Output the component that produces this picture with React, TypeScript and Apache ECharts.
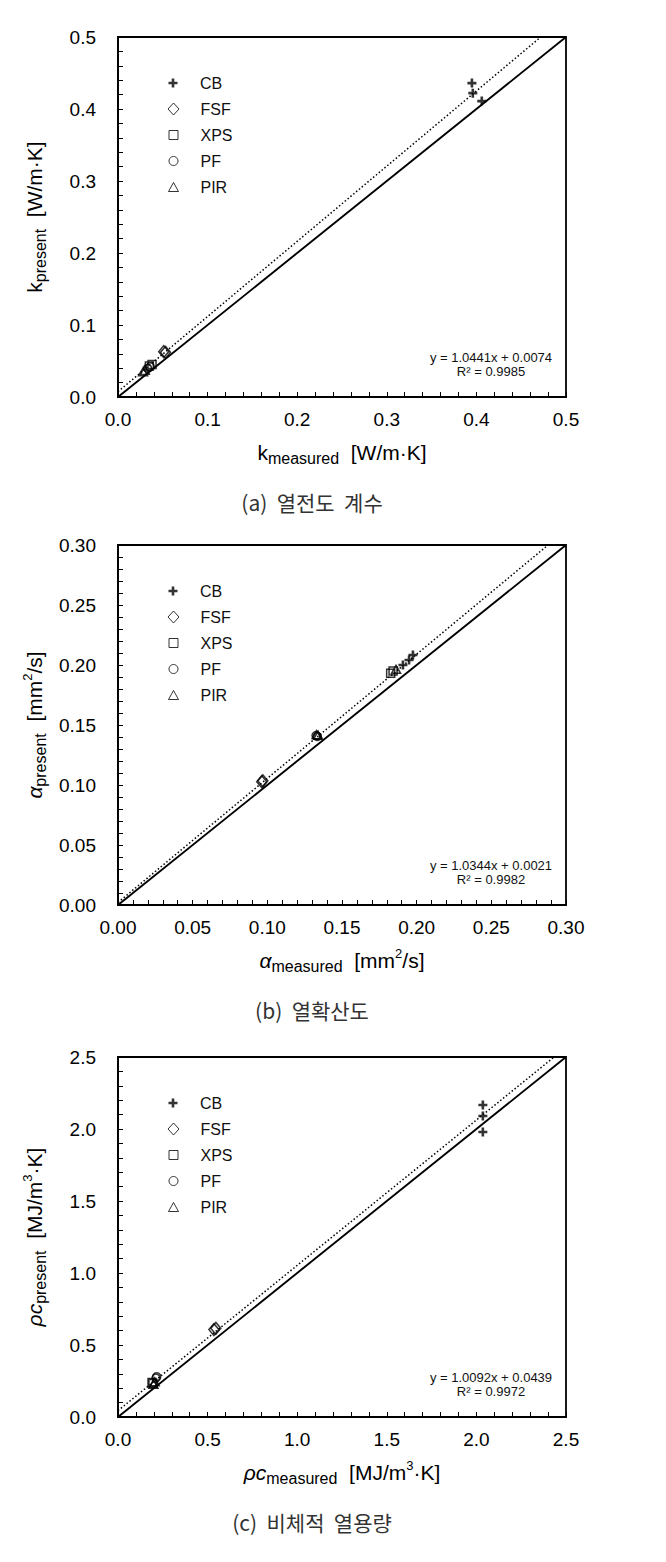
import React, { useEffect, useRef } from "react";
import * as echarts from "echarts";

// ---------- data ----------
const materials = ["CB", "FSF", "XPS", "PF", "PIR"];

// (a) thermal conductivity k [W/m·K]  [measured, present]
const kCB = [[0.395, 0.436], [0.396, 0.422], [0.406, 0.411]];
const kFSF = [[0.051, 0.063], [0.053, 0.062]];
const kXPS = [[0.035, 0.043], [0.038, 0.045]];
const kPF = [[0.033, 0.040], [0.036, 0.042]];
const kPIR = [[0.028, 0.035], [0.030, 0.037]];
const kFit = { slope: 1.0441, intercept: 0.0074, r2: 0.9985 };

// (b) thermal diffusivity α [mm²/s]
const aCB = [[0.1908, 0.2000], [0.1949, 0.2042], [0.1975, 0.2083]];
const aFSF = [[0.0962, 0.1028], [0.0970, 0.1035]];
const aXPS = [[0.1826, 0.1931], [0.1842, 0.1950]];
const aPF = [[0.1326, 0.1412], [0.1335, 0.1405]];
const aPIR = [[0.1330, 0.1420], [0.1340, 0.1415], [0.1862, 0.1964]];
const aFit = { slope: 1.0344, intercept: 0.0021, r2: 0.9982 };

// (c) volumetric heat capacity ρc [MJ/m³·K]
const cCB = [[2.036, 2.167], [2.036, 2.090], [2.036, 1.979]];
const cFSF = [[0.546, 0.616], [0.535, 0.607]];
const cXPS = [[0.190, 0.240], [0.195, 0.232]];
const cPF = [[0.216, 0.280], [0.212, 0.270]];
const cPIR = [[0.198, 0.228], [0.205, 0.245]];
const cFit = { slope: 1.0092, intercept: 0.0439, r2: 0.9972 };

// axis ranges / ticks
const axisMax = [0.5, 0.3, 2.5];
const axisInterval = [0.1, 0.05, 0.5];
const axisDecimals = [1, 2, 1];

const xNames = [
  "{m|k}{s|measured}{u|  [W/m·K]}",
  "{i|α}{s|measured}{u|  [mm}{p|2}{u|/s]}",
  "{i|ρc}{s|measured}{u|  [MJ/m}{p|3}{u|·K]}",
];
const yNames = [
  "{m|k}{s|present}{u|  [W/m·K]}",
  "{i|α}{s|present}{u|  [mm}{p|2}{u|/s]}",
  "{i|ρc}{s|present}{u|  [MJ/m}{p|3}{u|·K]}",
];
const captions = ["(a)  열전도  계수", "(b)  열확산도", "(c)  비체적  열용량"];

const panelData = [
  [kCB, kFSF, kXPS, kPF, kPIR],
  [aCB, aFSF, aXPS, aPF, aPIR],
  [cCB, cFSF, cXPS, cPF, cPIR],
];
const fits = [kFit, aFit, cFit];

// ---------- styling ----------
const FONT = "'Liberation Sans', Arial, sans-serif";
const PLUS = "path://M3.2,0H5.8V3.2H9V5.8H5.8V9H3.2V5.8H0V3.2H3.2Z";
const symbols: Record<string, string> = {
  CB: PLUS,
  FSF: "diamond",
  XPS: "rect",
  PF: "circle",
  PIR: "triangle",
};
const symSizes: Record<string, number[]> = {
  CB: [9, 9],
  FSF: [10, 12],
  XPS: [8, 8],
  PF: [8, 8],
  PIR: [9, 8],
};
const legendIcon: Record<string, number[]> = {
  CB: [9, 9],
  FSF: [11, 12],
  XPS: [9, 9],
  PF: [9, 9],
  PIR: [10, 9],
};

const GRID_LEFT = 118;
const GRID_W = 448;
const GRID_H = 360;
const GRID_TOPS = [37, 545, 1057];

const rich = {
  m: { fontSize: 21, lineHeight: 27, verticalAlign: "middle", fontFamily: FONT, color: "#000" },
  i: { fontSize: 21, lineHeight: 27, verticalAlign: "middle", fontStyle: "italic", fontFamily: FONT, color: "#000" },
  s: { fontSize: 16, lineHeight: 16, verticalAlign: "bottom", fontFamily: FONT, color: "#000" },
  u: { fontSize: 21, lineHeight: 27, verticalAlign: "middle", fontFamily: FONT, color: "#000" },
  p: { fontSize: 13, lineHeight: 20, verticalAlign: "top", fontFamily: FONT, color: "#000" },
};

function buildOption() {
  const grid: any[] = [];
  const xAxis: any[] = [];
  const yAxis: any[] = [];
  const series: any[] = [];
  const legend: any[] = [];
  const graphic: any[] = [];

  for (let p = 0; p < 3; p++) {
    const top = GRID_TOPS[p];
    const max = axisMax[p];
    const interval = axisInterval[p];
    const dec = axisDecimals[p];
    grid.push({
      left: GRID_LEFT,
      top,
      width: GRID_W,
      height: GRID_H,
      show: true,
      borderColor: "#000",
      borderWidth: 1.8,
      backgroundColor: "transparent",
    });
    const axisCommon = {
      type: "value",
      min: 0,
      max,
      interval,
      gridIndex: p,
      nameLocation: "middle",
      nameTextStyle: { rich, fontFamily: FONT, color: "#000" },
      axisLine: { show: true, lineStyle: { color: "#000", width: 1.8 } },
      axisTick: { show: true, inside: true, length: 5, lineStyle: { color: "#000", width: 1 } },
      minorTick: { show: true, splitNumber: 5, length: 5, lineStyle: { color: "#000", width: 1 } },
      splitLine: { show: false },
      minorSplitLine: { show: false },
    };
    const labelStyle = {
      fontSize: 19,
      color: "#000",
      fontFamily: FONT,
      formatter: (v: number) => v.toFixed(dec),
    };
    xAxis.push({
      ...axisCommon,
      name: xNames[p],
      nameGap: 42,
      axisLabel: { ...labelStyle, margin: 13 },
    });
    yAxis.push({
      ...axisCommon,
      name: yNames[p],
      nameGap: 70,
      axisLabel: { ...labelStyle, margin: 22 },
    });

    const sets = panelData[p];
    materials.forEach((name, j) => {
      const isPlus = name === "CB";
      series.push({
        type: "scatter",
        name,
        xAxisIndex: p,
        yAxisIndex: p,
        data: sets[j],
        symbol: symbols[name],
        symbolSize: symSizes[name],
        z: 5,
        itemStyle: isPlus
          ? { color: "#000", borderWidth: 0 }
          : { color: "rgba(255,255,255,0)", borderColor: "#000", borderWidth: 1.5 },
      });
    });

    const fit = fits[p];
    series.push({
      type: "line",
      name: "identity",
      xAxisIndex: p,
      yAxisIndex: p,
      data: [[0, 0], [max, max]],
      showSymbol: false,
      symbol: "none",
      silent: true,
      z: 3,
      lineStyle: { color: "#000", width: 1.9, type: "solid" },
    });
    series.push({
      type: "line",
      name: "fit",
      xAxisIndex: p,
      yAxisIndex: p,
      data: [[0, fit.intercept], [(max - fit.intercept) / fit.slope, max]],
      showSymbol: false,
      symbol: "none",
      silent: true,
      z: 3,
      lineStyle: { color: "#000", width: 1.5, type: [1.5, 2.2] },
    });

    // legend: one component per row so icon sizes can differ
    materials.forEach((name, j) => {
      const rowCenter = top + 46 + j * 26;
      const isPlus = name === "CB";
      const [iw, ih] = legendIcon[name];
      legend.push({
        show: true,
        orient: "vertical",
        left: 173 - iw / 2,
        top: rowCenter - 8,
        padding: 0,
        itemWidth: iw,
        itemHeight: ih,
        itemGap: 0,
        selectedMode: false,
        formatter: "{g| }{n|" + name + "}",
        textStyle: {
          fontSize: 15,
          lineHeight: 16,
          color: "#111",
          fontFamily: FONT,
          rich: {
            g: { width: 200 - (173 + iw / 2) - 5, fontSize: 15, lineHeight: 16 },
            n: { fontSize: 16, lineHeight: 16, color: "#111", fontFamily: FONT },
          },
        },
        data: [
          {
            name,
            icon: symbols[name],
            itemStyle: isPlus
              ? { color: "#000", borderWidth: 0 }
              : { color: "rgba(255,255,255,0)", borderColor: "#000", borderWidth: 1 },
          },
        ],
      });
    });

    graphic.push({
      type: "text",
      x: GRID_LEFT + 373,
      y: top + 327,
      silent: true,
      style: {
        text: `y = ${fit.slope.toFixed(4)}x + ${fit.intercept.toFixed(4)}\nR² = ${fit.r2.toFixed(4)}`,
        fontSize: 13,
        lineHeight: 14,
        fontFamily: FONT,
        fill: "#111",
        align: "center",
        verticalAlign: "middle",
      },
    });
    graphic.push({
      type: "text",
      x: 312,
      y: top + 465,
      silent: true,
      style: {
        text: captions[p],
        fontSize: 21,
        fontFamily: "'Noto Sans CJK KR', sans-serif",
        fill: "#333",
        align: "center",
        verticalAlign: "middle",
      },
    });
  }

  return {
    animation: false,
    backgroundColor: "#fff",
    grid,
    xAxis,
    yAxis,
    legend,
    series,
    graphic,
  };
}

export default function App() {
  const ref = useRef<HTMLDivElement>(null);
  useEffect(() => {
    if (!ref.current) return;
    const chart = echarts.init(ref.current, undefined, { renderer: "svg" });
    chart.setOption(buildOption() as any);
    return () => chart.dispose();
  }, []);
  return (
    <div
      ref={ref}
      style={{ position: "absolute", left: 0, top: 0, width: 666, height: 1562, background: "#fff" }}
    />
  );
}
